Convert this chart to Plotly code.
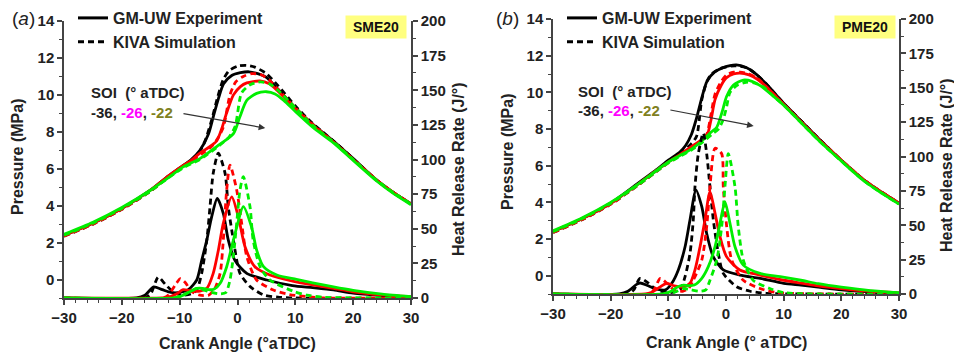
import plotly.graph_objects as go

W, H = 954, 357

# ---------------- data ----------------
# Panel (a) SME20 : cylinder pressure (MPa)
a_p_exp_blk_x = [-30, -25, -20, -15, -12, -10, -8, -6.5, -5, -4.2, -3.3, -2.4, -1, 0.5, 2, 3.5, 5, 7, 10, 13, 16.6, 20, 24, 27, 30]
a_p_exp_blk_y = [2.4, 3.05, 3.85, 4.85, 5.6, 6.05, 6.5, 7.0, 7.9, 8.8, 9.8, 10.6, 11.05, 11.2, 11.25, 11.15, 10.95, 10.3, 9.3, 8.4, 7.5, 6.55, 5.4, 4.7, 4.1]
a_p_sim_blk_x = [-30, -25, -20, -15, -12, -10, -8, -6.5, -5.5, -4.5, -3.5, -2.5, -1.5, 0, 1.5, 3, 5, 7, 10, 13, 16.6, 20, 24, 27, 30]
a_p_sim_blk_y = [2.35, 3.0, 3.8, 4.8, 5.55, 6.0, 6.45, 6.95, 7.6, 8.6, 9.8, 10.8, 11.3, 11.55, 11.6, 11.5, 11.15, 10.5, 9.4, 8.45, 7.5, 6.55, 5.4, 4.7, 4.1]
a_p_exp_red_x = [-30, -25, -20, -15, -12, -10, -8, -6.5, -5, -3.6, -2.7, -1.9, -0.7, 0.5, 1.6, 3.9, 5.5, 7, 10, 13, 16.6, 20, 24, 27, 30]
a_p_exp_red_y = [2.4, 3.05, 3.85, 4.85, 5.6, 6.05, 6.45, 6.85, 7.15, 7.5, 8.2, 9.0, 10.0, 10.45, 10.65, 10.75, 10.6, 10.2, 9.25, 8.35, 7.45, 6.5, 5.4, 4.7, 4.1]
a_p_sim_red_x = [-30, -25, -20, -15, -12, -10, -8, -6, -4.5, -3.3, -2.4, -1.3, -0.3, 1, 2.5, 4, 5.5, 7, 10, 13, 16.6, 20, 24, 27, 30]
a_p_sim_red_y = [2.35, 3.0, 3.8, 4.8, 5.55, 6.0, 6.4, 6.85, 7.2, 7.7, 8.3, 10.0, 10.7, 11.0, 11.15, 11.1, 10.8, 10.3, 9.3, 8.4, 7.45, 6.5, 5.4, 4.7, 4.1]
a_p_exp_grn_x = [-30, -25, -20, -15, -12, -9.4, -6.5, -3.6, -0.7, 0.4, 1.6, 3.3, 5, 6.5, 8, 10, 13, 16.6, 20, 24, 27, 30]
a_p_exp_grn_y = [2.45, 3.1, 3.9, 4.85, 5.5, 6.1, 6.55, 7.2, 7.9, 8.8, 9.7, 10.08, 10.17, 10.05, 9.7, 9.1, 8.25, 7.4, 6.45, 5.35, 4.65, 4.05]
a_p_sim_grn_x = [-30, -25, -20, -15, -12, -9.4, -6.5, -3.6, -1.5, -0.4, 0.7, 2.2, 4, 5.5, 7, 10, 13, 16.6, 20, 24, 27, 30]
a_p_sim_grn_y = [2.4, 3.05, 3.85, 4.8, 5.5, 6.05, 6.5, 7.15, 7.7, 8.3, 10.1, 10.55, 10.7, 10.6, 10.25, 9.3, 8.35, 7.45, 6.5, 5.4, 4.7, 4.1]

# Panel (a) SME20 : heat release rate (J/deg)
a_h_exp_blk_x = [-30, -17.5, -16, -14.5, -13, -11.5, -10, -8.5, -7.05, -6.2, -5.3, -4.46, -3.5, -2.45, -1.6, -0.43, 1.6, 5.05, 9.5, 13, 16.6, 20, 25, 30]
a_h_exp_blk_y = [0, 0, 2, 8, 6, 4, 4, 6, 13, 27, 42, 58.7, 72, 61, 42, 27, 17.8, 13, 9, 7.5, 5.8, 3.5, 1.8, 0.6]
a_h_sim_blk_x = [-30, -16, -15, -13.7, -12.5, -11, -9.5, -8, -7.05, -6.2, -5.3, -4.75, -4.2, -3.32, -2.15, -1.6, -0.72, 0.43, 2.2, 4.5, 7, 10, 30]
a_h_sim_blk_y = [0, 0, 3, 15, 10, 4, 2, 3, 5.8, 17.8, 42, 66, 90, 104.5, 90, 66, 42, 17.8, 8.2, 2.2, 0.6, 0, 0]
a_h_exp_red_x = [-30, -13, -12, -10.5, -9.4, -8, -6.5, -5.3, -4.2, -3.3, -2.45, -1.0, 0.14, 1.3, 3.0, 5.6, 9.7, 13, 16.6, 20, 25, 30]
a_h_exp_red_y = [0, 0, 0.5, 3, 6, 5, 5, 7, 17.8, 34.7, 54, 73, 58.7, 37, 22.6, 16.6, 12, 9.5, 7, 4.5, 2.2, 0.8]
a_h_sim_red_x = [-30, -13, -12, -10.5, -9.9, -9, -8, -6.5, -5, -3.9, -3.0, -2.45, -1.87, -1.3, -0.14, 0.72, 1.6, 3.3, 6.2, 9, 12, 15, 30]
a_h_sim_red_y = [0, 0, 2, 11, 14, 11, 5, 2, 2, 7, 17.8, 42, 78, 96, 78, 54, 30, 13, 5.8, 2.5, 1, 0, 0]
a_h_exp_grn_x = [-30, -11, -10, -8.5, -7, -6, -5, -4, -3.0, -1.87, -1.0, -0.14, 1.0, 2.45, 3.3, 4.5, 6.8, 10.2, 13, 16.6, 20, 25, 30]
a_h_exp_grn_y = [0, 0, 1, 4, 7, 7, 6, 6.5, 10.6, 22.6, 37, 51, 66, 51, 34.7, 22.6, 16.6, 13.5, 11, 8, 5.5, 2.8, 1]
a_h_sim_grn_x = [-30, -11, -9.5, -8, -7.1, -6, -4.5, -3, -2, -1.3, -0.72, -0.14, 0.43, 1.0, 2.16, 2.7, 3.9, 5.6, 9.7, 12, 15, 30]
a_h_sim_grn_y = [0, 0, 2, 5, 7, 6, 4, 3, 4, 13, 30, 54, 78, 87.6, 66, 42, 22.6, 13, 4.8, 2, 0.5, 0]

# Panel (b) PME20 : cylinder pressure (MPa)
b_p_exp_blk_x = [-30, -25, -20, -15, -12, -10, -8, -7, -6, -5.1, -4.2, -3.3, -2, -0.5, 1.8, 3.5, 5, 7, 10, 13, 16, 20, 24, 27, 30]
b_p_exp_blk_y = [2.4, 3.1, 3.95, 5.1, 5.8, 6.3, 6.75, 7.1, 7.7, 8.6, 9.7, 10.6, 11.1, 11.35, 11.5, 11.35, 11.05, 10.45, 9.4, 8.45, 7.5, 6.3, 5.2, 4.55, 3.95]
b_p_sim_blk_x = [-30, -25, -20, -15, -12, -10, -8, -6, -5.1, -4.2, -3.3, -2.5, -1, 1.5, 3.5, 5, 7, 10, 13, 16, 20, 24, 27, 30]
b_p_sim_blk_y = [2.35, 3.05, 3.9, 5.0, 5.7, 6.2, 6.65, 7.2, 7.6, 9.6, 10.6, 11.0, 11.3, 11.45, 11.35, 11.05, 10.45, 9.4, 8.45, 7.5, 6.3, 5.2, 4.55, 3.95]
b_p_exp_red_x = [-30, -25, -20, -15, -12, -10, -8, -6.2, -4.5, -3.35, -2.6, -1.9, -0.8, 0.1, 1.3, 2.4, 4, 5.5, 7, 10, 13, 16, 20, 24, 27, 30]
b_p_exp_red_y = [2.4, 3.1, 3.95, 5.05, 5.75, 6.2, 6.6, 7.0, 7.35, 7.6, 8.5, 9.6, 10.4, 10.8, 11.0, 11.05, 10.95, 10.7, 10.3, 9.35, 8.4, 7.45, 6.3, 5.2, 4.55, 3.95]
b_p_sim_red_x = [-30, -25, -20, -15, -12, -10, -8, -6.2, -4.5, -3.35, -2.6, -1.9, -0.8, 0.1, 1.3, 2.4, 4, 5.5, 7, 10, 13, 16, 20, 24, 27, 30]
b_p_sim_red_y = [2.35, 3.05, 3.9, 5.0, 5.7, 6.15, 6.55, 6.95, 7.3, 7.7, 8.8, 9.9, 10.6, 10.95, 11.1, 11.1, 11.0, 10.75, 10.3, 9.35, 8.4, 7.45, 6.3, 5.2, 4.55, 3.95]
b_p_exp_grn_x = [-30, -25, -20, -15, -12, -10, -8, -6, -4, -2.5, -1.6, -0.7, 0.1, 1.3, 3, 4.5, 6, 8, 10, 13, 16, 20, 24, 27, 30]
b_p_exp_grn_y = [2.45, 3.15, 4.0, 5.05, 5.75, 6.2, 6.55, 6.9, 7.4, 7.85, 8.1, 8.9, 9.77, 10.4, 10.67, 10.6, 10.35, 9.85, 9.3, 8.35, 7.4, 6.25, 5.15, 4.5, 3.9]
b_p_sim_grn_x = [-30, -25, -20, -15, -12, -10, -8, -6, -4, -2.5, -1.3, -0.5, 0.1, 0.7, 2, 3.5, 5, 6.5, 8, 10, 13, 16, 20, 24, 27, 30]
b_p_sim_grn_y = [2.4, 3.1, 3.95, 5.0, 5.7, 6.15, 6.5, 6.85, 7.3, 7.7, 8.0, 8.5, 9.2, 10.0, 10.4, 10.55, 10.5, 10.3, 9.85, 9.3, 8.35, 7.4, 6.25, 5.15, 4.5, 3.9]

# Panel (b) PME20 : heat release rate (J/deg)
b_h_exp_blk_x = [-30, -18.5, -17, -15.5, -14.9, -13.5, -12, -10.5, -9.4, -8.27, -7.1, -6.24, -5.2, -4.2, -3.35, -2.2, -0.47, 2.4, 5.9, 10, 13, 16, 20, 25, 30]
b_h_exp_blk_y = [0, 0, 2, 7, 8, 6, 3.5, 3, 7.8, 17.5, 34.4, 54, 75.6, 63.5, 44, 27, 17.5, 13.8, 11.4, 7.8, 6.5, 5, 3, 1.5, 0.5]
b_h_sim_blk_x = [-30, -17, -16, -14.9, -13.5, -12, -10, -8, -7.1, -6.24, -5.67, -5.38, -4.8, -3.94, -3.35, -2.78, -2.2, -1.33, -0.47, 1.85, 4.2, 7, 30]
b_h_sim_blk_y = [0, 0, 3, 11.4, 8, 3, 1, 3, 12.6, 29.6, 54, 78, 102, 117, 102, 78, 54, 29.6, 15, 5.3, 2, 0.5, 0]
b_h_exp_red_x = [-30, -14, -13, -11.5, -10.3, -9, -7.5, -6.24, -5.38, -4.5, -3.64, -2.78, -1.9, -1.04, 0.12, 2.4, 5.9, 10, 13, 16, 20, 25, 30]
b_h_exp_red_y = [0, 0, 1, 5, 7.8, 6, 5, 7.8, 17.5, 34.4, 54, 74.4, 58.7, 41.7, 27, 17.5, 13.8, 10, 8, 6, 4, 2, 0.8]
b_h_sim_red_x = [-30, -13.5, -12.5, -11.4, -10.3, -9, -7.5, -6.5, -5.67, -4.2, -3.35, -2.78, -1.9, -0.75, -0.47, 0.12, 0.99, 3.0, 5.9, 9, 30]
b_h_sim_red_y = [0, 0, 3, 11.4, 8, 3, 2, 4, 10, 24.7, 49, 78, 106, 102, 78, 49, 24.7, 10, 4, 1, 0]
b_h_exp_grn_x = [-30, -11, -9.5, -8.5, -7.4, -6.5, -5.5, -4.2, -3.07, -1.9, -1.04, -0.18, 0.69, 1.56, 3.0, 5.9, 9.4, 13, 16, 20, 25, 30]
b_h_exp_grn_y = [0, 0, 2, 5, 6.5, 6, 6.5, 11.4, 19.9, 34.4, 51.4, 67, 51.4, 34.4, 21, 15, 12.6, 10, 7.5, 5, 2.5, 1]
b_h_sim_grn_x = [-30, -10, -8.5, -7.4, -6, -4.5, -3.5, -2.78, -1.6, -0.75, -0.18, 0.4, 1.56, 2.13, 3.0, 4.7, 7.6, 10, 30]
b_h_sim_grn_y = [0, 0, 2, 4, 3, 2, 3, 10, 24.7, 49, 78, 102, 78, 49, 24.7, 10, 4, 1, 0]

x_ticks = [-30, -20, -10, 0, 10, 20, 30]
p_ticks = [0, 2, 4, 6, 8, 10, 12, 14]
h_ticks = [0, 25, 50, 75, 100, 125, 150, 175, 200]
legend_names = ["GM-UW Experiment", "KIVA Simulation"]
soi_values = ["-36", "-26", "-22"]
fuel_labels = ["SME20", "PME20"]

# ---------------- styling ----------------
FONT = "Liberation Sans, Arial, sans-serif"
TXT = "#222222"
AX = "#444444"
COLORS = {"blk": "#000000", "red": "#ff0000", "grn": "#00ee00"}
DASH = "6px,4px"
LW = 2.8

fig = go.Figure()

panels = {
    "a": dict(xa="x", pa="y", ha="y2", legend="legend",
              series=[
                  ("blk", "p", a_p_exp_blk_x, a_p_exp_blk_y, a_p_sim_blk_x, a_p_sim_blk_y),
                  ("red", "p", a_p_exp_red_x, a_p_exp_red_y, a_p_sim_red_x, a_p_sim_red_y),
                  ("grn", "p", a_p_exp_grn_x, a_p_exp_grn_y, a_p_sim_grn_x, a_p_sim_grn_y),
                  ("blk", "h", a_h_exp_blk_x, a_h_exp_blk_y, a_h_sim_blk_x, a_h_sim_blk_y),
                  ("red", "h", a_h_exp_red_x, a_h_exp_red_y, a_h_sim_red_x, a_h_sim_red_y),
                  ("grn", "h", a_h_exp_grn_x, a_h_exp_grn_y, a_h_sim_grn_x, a_h_sim_grn_y),
              ]),
    "b": dict(xa="x2", pa="y3", ha="y4", legend="legend2",
              series=[
                  ("blk", "p", b_p_exp_blk_x, b_p_exp_blk_y, b_p_sim_blk_x, b_p_sim_blk_y),
                  ("red", "p", b_p_exp_red_x, b_p_exp_red_y, b_p_sim_red_x, b_p_sim_red_y),
                  ("grn", "p", b_p_exp_grn_x, b_p_exp_grn_y, b_p_sim_grn_x, b_p_sim_grn_y),
                  ("blk", "h", b_h_exp_blk_x, b_h_exp_blk_y, b_h_sim_blk_x, b_h_sim_blk_y),
                  ("red", "h", b_h_exp_red_x, b_h_exp_red_y, b_h_sim_red_x, b_h_sim_red_y),
                  ("grn", "h", b_h_exp_grn_x, b_h_exp_grn_y, b_h_sim_grn_x, b_h_sim_grn_y),
              ]),
}

for key, pn in panels.items():
    for col, kind, ex, ey, sx, sy in pn["series"]:
        ya = pn["pa"] if kind == "p" else pn["ha"]
        for xs, ys, dash in ((sx, sy, DASH), (ex, ey, "solid")):
            fig.add_trace(go.Scatter(
                x=xs, y=ys, xaxis=pn["xa"], yaxis=ya, mode="lines",
                line=dict(color=COLORS[col], width=LW, dash=dash, shape="spline", smoothing=0.7),
                showlegend=False, hoverinfo="skip"))
    # legend entries
    for name, dash in zip(legend_names, ("solid", DASH)):
        fig.add_trace(go.Scatter(
            x=[None], y=[None], xaxis=pn["xa"], yaxis=pn["pa"], mode="lines",
            line=dict(color="#000000", width=3, dash=dash), name=name,
            legend=pn["legend"], showlegend=True))

tickfont = dict(family=FONT, size=15, color=TXT, weight="bold")
base = dict(showline=True, linecolor=AX, linewidth=1.5, ticks="outside", ticklen=5,
            tickwidth=1.5, tickcolor=AX, showgrid=False, zeroline=False, tickfont=tickfont,
            automargin=False)


def minor(d):
    return dict(dtick=d, ticks="outside", ticklen=3, tickwidth=1.2, tickcolor=AX, showgrid=False)


dom = {
    "a": dict(x=[64 / W, 411 / W], y=[1 - 298 / H, 1 - 21 / H]),
    "b": dict(x=[553 / W, 899 / W], y=[1 - 294 / H, 1 - 19 / H]),
}

fig.update_layout(
    template="none",
    xaxis=dict(domain=dom["a"]["x"], range=[-30, 30], tickvals=x_ticks, anchor="y", minor=minor(2), **base),
    yaxis=dict(domain=dom["a"]["y"], range=[-1, 14], tickvals=p_ticks, anchor="x", minor=minor(1), **base),
    yaxis2=dict(range=[0, 200], tickvals=h_ticks, overlaying="y", side="right", anchor="x",
                minor=minor(12.5), **base),
    xaxis2=dict(domain=dom["b"]["x"], range=[-30, 30], tickvals=x_ticks, anchor="y3", minor=minor(2), **base),
    yaxis3=dict(domain=dom["b"]["y"], range=[-1, 14], tickvals=p_ticks, anchor="x2", minor=minor(1), **base),
    yaxis4=dict(range=[0, 200], tickvals=h_ticks, overlaying="y3", side="right", anchor="x2",
                minor=minor(12.5), **base),
)

legfont = dict(family=FONT, size=16, color=TXT, weight="bold")
fig.update_layout(
    legend=dict(x=73 / W, y=1 - 1 / H, xanchor="left", yanchor="top", bgcolor="rgba(0,0,0,0)",
                font=legfont, tracegroupgap=0, itemwidth=30, borderwidth=0),
    legend2=dict(x=562 / W, y=1 - 1 / H, xanchor="left", yanchor="top", bgcolor="rgba(0,0,0,0)",
                 font=legfont, tracegroupgap=0, itemwidth=30, borderwidth=0),
)

ann = []


def txt(x, y, text, size=16, angle=0, xanchor="center", bold=True, color=TXT, **kw):
    ann.append(dict(x=x / W, y=1 - y / H, xref="paper", yref="paper", text=text, showarrow=False,
                    textangle=angle, xanchor=xanchor, yanchor="middle",
                    font=dict(family=FONT, size=size, color=color, weight="bold" if bold else "normal"), **kw))


# panel letters
txt(23, 18, "(<i>a</i>)", size=19, bold=False)
txt(507, 18, "(<i>b</i>)", size=19, bold=False)
# fuel boxes
txt(375.5, 27.5, "&nbsp;" + fuel_labels[0] + "&nbsp;", size=14, bgcolor="#ffff80", borderpad=3, color="#111111")
txt(864.5, 27.5, "&nbsp;" + fuel_labels[1] + "&nbsp;", size=14, bgcolor="#ffff80", borderpad=3, color="#111111")
# SOI labels
soi_line = (f"{soi_values[0]}, <span style='color:#ff00ff'>{soi_values[1]}</span>, "
            f"<span style='color:#808020'>{soi_values[2]}</span>")
txt(89, 92.5, "SOI  (° aTDC)", size=15, xanchor="left")
txt(89, 112.5, soi_line, size=15, xanchor="left")
txt(576, 92, "SOI  (° aTDC)", size=15, xanchor="left")
txt(576, 110.5, soi_line, size=15, xanchor="left")
# axis titles
txt(17, 157, "Pressure (MPa)", size=16, angle=-90)
txt(458, 169, "Heat Release Rate (J/°)", size=16, angle=-90)
txt(507, 152, "Pressure (MPa)", size=16, angle=-90)
txt(946, 165, "Heat Release Rate (J/°)", size=16, angle=-90)
txt(237, 343, "Crank Angle (°aTDC)", size=16)
txt(726, 342, "Crank Angle (° aTDC)", size=16)

# SOI arrows (data coordinates of pressure axes)
ann.append(dict(x=4.8, y=8.2, xref="x", yref="y", ax=-9.6, ay=9.0, axref="x", ayref="y",
                showarrow=True, arrowhead=2, arrowsize=1.1, arrowwidth=1.2, arrowcolor="#333333", text=""))
ann.append(dict(x=4.8, y=8.17, xref="x2", yref="y3", ax=-9.9, ay=9.05, axref="x2", ayref="y3",
                showarrow=True, arrowhead=2, arrowsize=1.1, arrowwidth=1.2, arrowcolor="#333333", text=""))

fig.update_layout(
    annotations=ann,
    width=W, height=H, margin=dict(l=0, r=0, t=0, b=0, pad=0),
    paper_bgcolor="white", plot_bgcolor="white",
    font=dict(family=FONT, color=TXT),
)

fig.write_html("out.html")
